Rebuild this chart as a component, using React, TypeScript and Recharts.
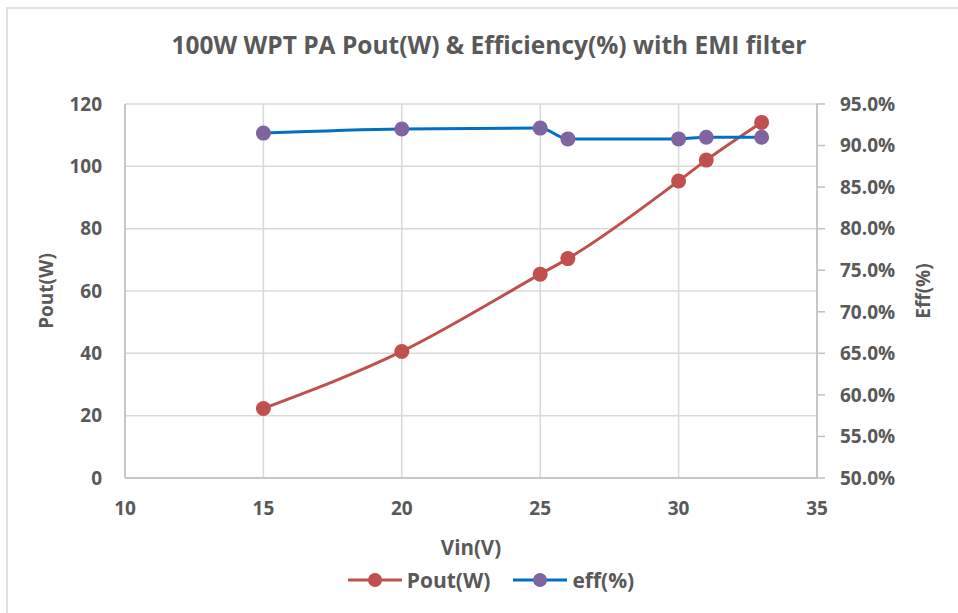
import React from 'react';
import {
  LineChart,
  Line,
  XAxis,
  YAxis,
  CartesianGrid,
  Legend,
} from 'recharts';

const vin = [15, 20, 25, 26, 30, 31, 33];
const pout = [22.3, 40.6, 65.4, 70.4, 95.3, 102.0, 114.1];
const eff = [91.5, 92.0, 92.1, 90.8, 90.8, 91.0, 91.0];

const xTicks = [10, 15, 20, 25, 30, 35];
const poutTicks = [0, 20, 40, 60, 80, 100, 120];
const effTicks = [50, 55, 60, 65, 70, 75, 80, 85, 90, 95];

const data = vin.map((v, i) => ({ vin: v, pout: pout[i], eff: eff[i] }));

const FONT = '"Open Sans", sans-serif';
const TEXT = '#595959';
const GRID = '#d9d9d9';
const AXIS = '#bfbfbf';
const RED = '#c0504d';
const BLUE = '#0070c0';
const PURPLE = '#8064a2';

const tickStyle = { fill: TEXT, fontSize: 19, fontWeight: 700, fontFamily: FONT };

// rotated axis title, placed relative to the axis box
const SideLabel = ({ viewBox, value, dx }: any) => {
  const cx = viewBox.x + dx;
  const cy = viewBox.y + viewBox.height / 2;
  return (
    <text
      x={cx}
      y={cy}
      transform={`rotate(-90 ${cx} ${cy})`}
      textAnchor="middle"
      dominantBaseline="central"
      fill={TEXT}
      fontSize={19}
      fontWeight={700}
      fontFamily={FONT}
    >
      {value}
    </text>
  );
};

const BottomLabel = ({ viewBox, value }: any) => (
  <text
    x={viewBox.x + viewBox.width / 2}
    y={viewBox.y + 69}
    textAnchor="middle"
    dominantBaseline="central"
    fill={TEXT}
    fontSize={20.5}
    fontWeight={700}
    fontFamily={FONT}
  >
    {value}
  </text>
);

const LegendItems = () => {
  const items = [
    { name: 'Pout(W)', line: RED, dot: RED },
    { name: 'eff(%)', line: BLUE, dot: PURPLE },
  ];
  return (
    <div style={{ display: 'flex', justifyContent: 'center', gap: 23, paddingLeft: 24 }}>
      {items.map((it) => (
        <div key={it.name} style={{ display: 'flex', alignItems: 'center', gap: 5 }}>
          <svg width={54} height={16}>
            <line x1={0} y1={8} x2={54} y2={8} stroke={it.line} strokeWidth={3} />
            <circle cx={27} cy={8} r={7} fill={it.dot} />
          </svg>
          <span style={{ color: TEXT, fontSize: 21, fontWeight: 700, fontFamily: FONT }}>{it.name}</span>
        </div>
      ))}
    </div>
  );
};

export default function App() {
  return (
    <div style={{ position: 'absolute', left: 0, top: 0, width: 958, height: 613, background: '#fff', overflow: 'hidden' }}>
      <div
        style={{
          position: 'absolute',
          left: 6,
          top: 7,
          width: 980,
          height: 640,
          border: '2px solid #e0e0e0',
        }}
      />
      <div
        style={{
          position: 'absolute',
          top: 28,
          left: 10,
          width: 958,
          textAlign: 'center',
          color: TEXT,
          fontSize: 24.5,
          fontWeight: 700,
          fontFamily: FONT,
        }}
      >
        100W WPT PA Pout(W) &amp; Efficiency(%) with EMI filter
      </div>
      <LineChart
        width={958}
        height={613}
        data={data}
        margin={{ top: 104, right: 0, bottom: 0, left: 0 }}
        style={{ position: 'absolute', left: 0, top: 0 }}
      >
        <CartesianGrid yAxisId="left" stroke={GRID} strokeWidth={1.5} />
        <XAxis
          dataKey="vin"
          type="number"
          domain={[10, 35]}
          ticks={xTicks}
          height={135}
          stroke={AXIS}
          strokeWidth={1.5}
          tickLine={false}
          tickSize={6}
          tickMargin={18}
          tick={tickStyle}
          label={<BottomLabel value="Vin(V)" />}
        />
        <YAxis
          yAxisId="left"
          domain={[0, 120]}
          ticks={poutTicks}
          width={125}
          stroke={AXIS}
          strokeWidth={1.5}
          tickLine={false}
          tickSize={6}
          tickMargin={17}
          tick={tickStyle}
          label={<SideLabel value="Pout(W)" dx={46} />}
        />
        <YAxis
          yAxisId="right"
          orientation="right"
          domain={[50, 95]}
          ticks={effTicks}
          width={141}
          stroke={AXIS}
          strokeWidth={1.5}
          tickSize={8}
          tickMargin={15}
          tick={tickStyle}
          tickFormatter={(v: number) => `${v.toFixed(1)}%`}
          label={<SideLabel value="Eff(%)" dx={106} />}
        />
        <Legend
          layout="horizontal"
          verticalAlign="middle"
          align="center"
          wrapperStyle={{ top: 566, left: 0, width: 958 }}
          content={<LegendItems />}
        />
        <Line
          yAxisId="left"
          dataKey="pout"
          type="monotone"
          stroke={RED}
          strokeWidth={3}
          dot={{ r: 7.5, fill: RED, stroke: 'none' }}
          activeDot={false}
          isAnimationActive={false}
        />
        <Line
          yAxisId="right"
          dataKey="eff"
          type="monotone"
          stroke={BLUE}
          strokeWidth={3}
          dot={{ r: 7.5, fill: PURPLE, stroke: 'none' }}
          activeDot={false}
          isAnimationActive={false}
        />
      </LineChart>
    </div>
  );
}
